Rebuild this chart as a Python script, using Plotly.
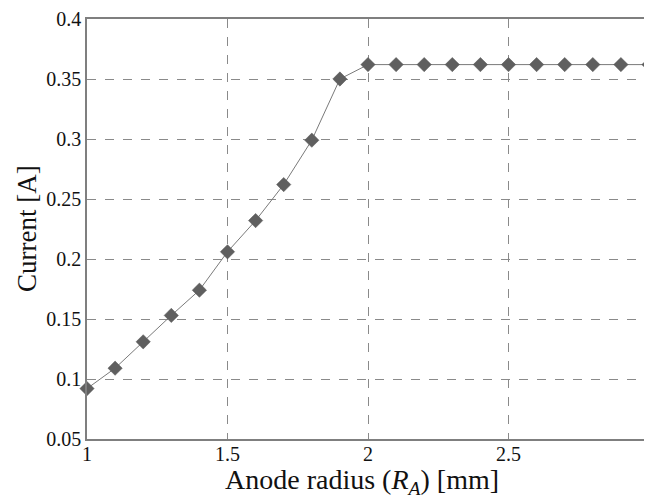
import plotly.graph_objects as go

raio = [1.0, 1.1, 1.2, 1.3, 1.4, 1.5, 1.6, 1.7, 1.8, 1.9, 2.0,
        2.1, 2.2, 2.3, 2.4, 2.5, 2.6, 2.7, 2.8, 2.9, 3.0]
corrente = [0.092, 0.109, 0.131, 0.153, 0.174, 0.206, 0.232, 0.262, 0.299, 0.350, 0.362,
            0.362, 0.362, 0.362, 0.362, 0.362, 0.362, 0.362, 0.362, 0.362, 0.362]
ticks_x = [1, 1.5, 2, 2.5, 3]
ticks_y = [0.05, 0.1, 0.15, 0.2, 0.25, 0.3, 0.35, 0.4]

fonte = "Liberation Serif"
cinza_grade = "#8a8a8a"
preto = "#111111"

fig = go.Figure()
fig.add_trace(
    go.Scatter(
        x=raio,
        y=corrente,
        mode="lines+markers",
        line=dict(color="#7a7a7a", width=1),
        marker=dict(symbol="diamond", size=11, color="#5f5f5f",
                    line=dict(color="#555555", width=0.5)),
        cliponaxis=False,
    )
)

eixo = dict(
    showgrid=True,
    gridcolor=cinza_grade,
    griddash="dash",
    gridwidth=1,
    showline=True,
    linecolor="#7f7f7f",
    linewidth=1.5,
    mirror=True,
    zeroline=False,
    ticks="",
    automargin=False,
    ticklabeloverflow="allow",
    tickfont=dict(family=fonte, size=20, color=preto),
)
fig.update_xaxes(range=[1, 3], tickvals=ticks_x, ticktext=[f"{v:g}" for v in ticks_x],
                 ticklabelstandoff=-4, **eixo)
fig.update_yaxes(range=[0.05, 0.4], tickvals=ticks_y, ticktext=[f"{v:g}" for v in ticks_y], **eixo)

# titulos como anotacoes para controlar a posicao
fig.add_annotation(
    text="Anode radius (<i>R<sub>A</sub></i>) [mm]",
    xref="paper", yref="paper", x=0.49, y=0,
    xanchor="center", yanchor="middle", yshift=-42,
    showarrow=False, font=dict(family=fonte, size=28, color=preto),
)
fig.add_annotation(
    text="Current [A]",
    xref="paper", yref="paper", x=0, y=0.5,
    xanchor="center", yanchor="middle", xshift=-60, textangle=-90,
    showarrow=False, font=dict(family=fonte, size=27, color=preto),
)

# a pagina tem margem de 8px no body
fig.update_layout(
    width=644,
    height=488,
    margin=dict(l=79, r=3, t=11, b=57),
    font=dict(family=fonte, color=preto),
    plot_bgcolor="white",
    paper_bgcolor="white",
    showlegend=False,
)

fig.write_html("out.html")
